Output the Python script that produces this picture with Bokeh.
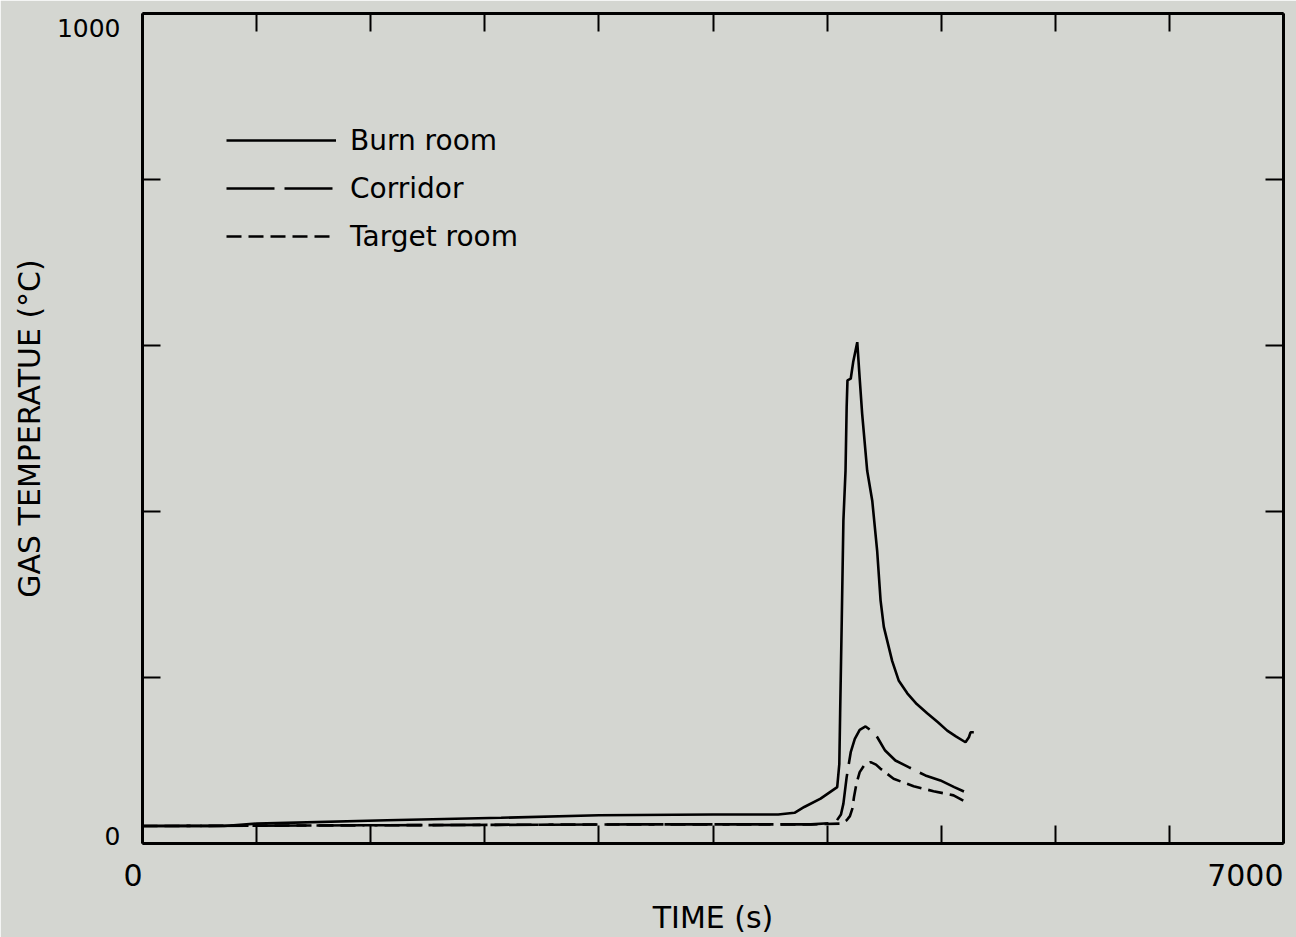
from bokeh.plotting import figure
from bokeh.models import Range1d, LinearAxis, FixedTicker, Legend, LegendItem
from bokeh.embed import file_html
from bokeh.resources import INLINE

# ---------------- data ----------------
X_TICKS = [0, 700, 1400, 2100, 2800, 3500, 4200, 4900, 5600, 6300, 7000]
Y_TICKS = [0, 200, 400, 600, 800, 1000]
X_TICK_LABELS = {0: "0", 7000: "7000"}
Y_TICK_LABELS = {0: "0\n", 1000: "\n1000"}

TIME_BURN = [0, 500, 700, 1500, 2200, 2800, 3500, 3900, 4000, 4060, 4160, 4262,
             4275, 4280, 4290, 4300, 4313, 4320, 4325, 4345, 4360, 4385, 4400,
             4415, 4446, 4477, 4507, 4528, 4548, 4599, 4640, 4692, 4750, 4814,
             4880, 4937, 4990, 5049, 5070, 5080, 5100]
TEMP_BURN = [21, 21, 24, 28, 31, 34, 35, 35, 37, 44, 54, 68,
             96, 157, 270, 389, 449, 526, 558, 560, 580, 604, 560,
             518, 449, 413, 353, 293, 261, 220, 196, 181, 168, 157,
             146, 136, 129, 122, 128, 134, 134]

TIME_CORR = [0, 1500, 3000, 4100, 4250, 4285, 4300, 4320, 4345, 4370, 4400,
             4436, 4470, 4508, 4556, 4619, 4700, 4803, 4895, 4980, 5070]
TEMP_CORR = [21, 22, 23, 23, 25, 35, 48, 80, 110, 126, 137,
             141, 136, 128, 112, 100, 92, 82, 76, 68, 60]

TIME_TARGET = [0, 1500, 3000, 4100, 4290, 4320, 4340, 4355, 4365, 4380, 4400,
               4430, 4467, 4500, 4528, 4608, 4731, 4853, 4976, 5070]
TEMP_TARGET = [21, 22, 23, 23, 24, 28, 33, 42, 56, 72, 86,
               95, 98, 95, 90, 78, 69, 63, 58, 48]

SERIES_NAMES = ["Burn room", "Corridor", "Target room"]

# ---------------- styling ----------------
BG = "#d4d6d1"
FONT = "DejaVu Sans"

p = figure(width=1296, height=937,
           x_range=Range1d(0, 7000), y_range=Range1d(0, 1000),
           output_backend="svg", toolbar_location=None,
           x_axis_label="TIME (s)", y_axis_label="GAS TEMPERATUE (°C)",
           min_border_left=142, min_border_right=13,
           min_border_top=13, min_border_bottom=94,
           background_fill_color=BG, border_fill_color=BG,
           outline_line_color=None)
p.xgrid.visible = False
p.ygrid.visible = False

def style_axis(ax, ticks):
    ax.ticker = FixedTicker(ticks=ticks)
    ax.axis_line_color = "black"
    ax.axis_line_width = 3
    ax.major_tick_line_color = "black"
    ax.major_tick_line_width = 2
    ax.major_tick_in = 18
    ax.major_tick_out = 0
    ax.minor_tick_line_color = None

# bottom axis: numeric orientation 0 -> labels right-aligned at their tick
xa = p.xaxis[0]
style_axis(xa, X_TICKS)
xa.major_label_overrides = {t: X_TICK_LABELS.get(t, "") for t in X_TICKS}
xa.major_label_orientation = 0.0
xa.major_label_text_font = FONT
xa.major_label_text_font_size = "30px"
xa.major_label_text_color = "black"
xa.major_label_standoff = 31
xa.axis_label_text_font = FONT
xa.axis_label_text_font_size = "30px"
xa.axis_label_text_font_style = "normal"
xa.axis_label_text_color = "black"
xa.axis_label_standoff = 0

# left axis
ya = p.yaxis[0]
style_axis(ya, Y_TICKS)
ya.major_label_overrides = {t: Y_TICK_LABELS.get(t, "") for t in Y_TICKS}
ya.major_label_text_font = FONT
ya.major_label_text_font_size = "25px"
ya.major_label_text_line_height = 0.45
ya.major_label_text_color = "black"
ya.major_label_standoff = 22
ya.axis_label_text_font = FONT
ya.axis_label_text_font_size = "30px"
ya.axis_label_text_font_style = "normal"
ya.axis_label_text_color = "black"
ya.axis_label_standoff = 7

# top and right axes (ticks only)
top = LinearAxis()
style_axis(top, X_TICKS)
top.major_label_overrides = {t: "" for t in X_TICKS}
top.major_label_text_font_size = "0px"
top.major_label_standoff = 0
p.add_layout(top, "above")

right = LinearAxis()
style_axis(right, Y_TICKS)
right.major_label_overrides = {t: "" for t in Y_TICKS}
right.major_label_text_font_size = "0px"
right.major_label_standoff = 0
p.add_layout(right, "right")

# data lines
r1 = p.line(TIME_BURN, TEMP_BURN, line_color="black", line_width=2.6)
r2 = p.line(TIME_CORR, TEMP_CORR, line_color="black", line_width=2.6, line_dash="48 10")
r3 = p.line(TIME_TARGET, TEMP_TARGET, line_color="black", line_width=2.6, line_dash="15 7")

legend = Legend(items=[LegendItem(label=SERIES_NAMES[0], renderers=[r1]),
                       LegendItem(label=SERIES_NAMES[1], renderers=[r2]),
                       LegendItem(label=SERIES_NAMES[2], renderers=[r3])],
                location=(84, 589), glyph_width=110, glyph_height=36,
                label_height=36, label_standoff=14, spacing=12,
                padding=0, margin=0, background_fill_alpha=0,
                border_line_alpha=0, label_text_font=FONT,
                label_text_font_size="28px", label_text_color="black")
p.add_layout(legend)

open("out.html", "w").write(file_html(p, INLINE))
